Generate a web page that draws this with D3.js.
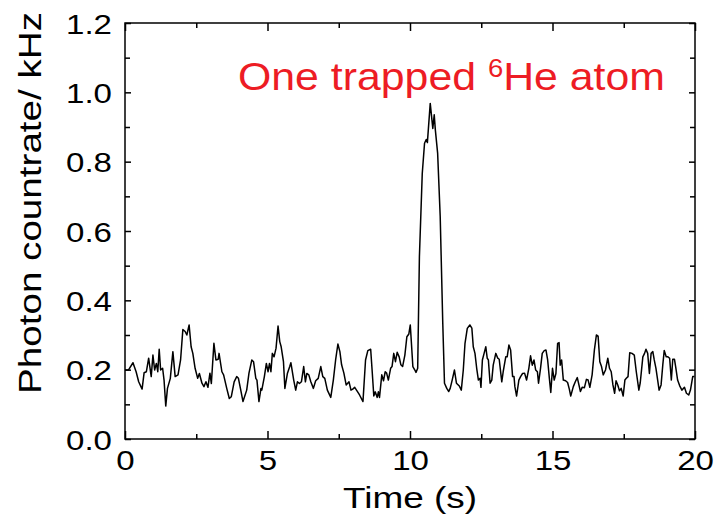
<!DOCTYPE html>
<html><head><meta charset="utf-8">
<script src="https://cdn.jsdelivr.net/npm/d3@7"></script>
<style>
html,body{margin:0;padding:0;background:#fff;}
svg text{font-family:"Liberation Sans",Arial,sans-serif;}
</style></head>
<body><svg id="chart" width="715" height="520"></svg>
<script>
const times = [0,0.13,0.28,0.39,0.48,0.60,0.67,0.75,0.83,0.92,0.98,1.04,1.10,1.15,1.20,1.25,1.32,1.37,1.43,1.49,1.59,1.68,1.76,1.86,1.95,2.03,2.11,2.17,2.25,2.32,2.38,2.46,2.55,2.61,2.70,2.77,2.84,2.91,2.98,3.03,3.12,3.19,3.27,3.30,3.40,3.46,3.57,3.66,3.73,3.83,
3.92,3.98,4.05,4.14,4.27,4.35,4.45,4.51,4.59,4.63,4.70,4.77,4.80,4.89,4.96,5.02,5.07,5.12,5.17,5.23,5.30,5.37,5.43,5.48,5.56,5.61,5.70,5.78,5.82,5.92,5.99,6.05,6.12,6.19,6.27,6.33,6.38,6.45,6.52,6.61,6.69,6.78,6.87,6.94,7.01,7.10,7.22,7.31,7.39,7.47,7.54,7.60,7.68,7.76,7.86,7.93,
7.99,8.06,8.14,8.23,8.35,8.44,8.52,8.62,8.67,8.73,8.78,8.85,8.89,8.93,9.01,9.07,9.13,9.18,9.24,9.32,9.37,9.43,9.49,9.55,9.62,9.68,9.74,9.82,9.89,9.96,10.01,10.05,10.10,10.17,10.21,10.27,
10.33,10.43,10.51,10.57,10.61,10.71,10.80,10.85,10.89,10.97,11.06,11.15,11.21,11.29,11.36,11.41,11.48,11.56,11.63,11.73,11.80,
11.87,11.93,12.01,12.10,12.17,12.22,12.28,12.34,12.40,12.46,12.49,12.54,12.60,12.66,12.71,12.75,12.81,12.87,12.92,13.01,13.08,13.13,13.22,13.27,13.36,13.41,13.47,13.53,13.60,13.65,13.68,13.74,13.82,13.88,13.95,14.02,14.09,14.17,14.23,14.29,14.35,14.41,14.47,14.51,14.58,14.64,14.71,14.77,14.83,14.89,14.94,15.00,15.06,15.12,15.18,15.23,15.27,15.32,15.38,15.46,15.53,15.59,15.64,15.73,15.80,15.87,
15.98,16.04,16.12,16.19,16.25,16.31,16.39,16.47,16.54,16.60,16.66,16.72,16.78,16.86,16.94,17.00,17.06,17.12,17.18,17.23,17.29,17.35,17.41,17.48,17.54,17.59,17.65,17.71,17.79,17.87,17.94,18.03,18.08,18.17,18.23,18.28,18.34,18.40,18.46,18.52,18.57,18.63,18.69,18.74,18.81,18.87,18.92,18.99,19.05,19.11,19.17,19.22,19.28,19.33,19.39,19.46,19.54,19.63,19.70,19.78,19.84,19.92,19.98];

const countrate = [0.199,0.200,0.220,0.194,0.165,0.144,0.191,0.194,0.233,0.180,0.242,0.199,0.218,0.194,0.259,0.199,0.204,0.170,0.095,0.146,0.175,0.252,0.180,0.185,0.228,0.316,0.310,0.300,0.329,0.266,0.247,0.204,0.175,0.189,0.161,0.151,0.165,0.149,0.190,0.160,0.276,0.228,0.230,0.247,0.194,0.185,0.146,0.117,0.122,0.165,
0.180,0.175,0.146,0.108,0.141,0.190,0.228,0.223,0.175,0.170,0.108,0.146,0.141,0.180,0.218,0.194,0.218,0.194,0.247,0.237,0.262,0.326,0.281,0.266,0.223,0.146,0.190,0.209,0.220,0.170,0.141,0.165,0.160,0.165,0.209,0.165,0.189,0.185,0.165,0.146,0.168,0.175,0.209,0.180,0.175,0.141,0.120,0.170,0.228,0.274,0.252,0.214,0.190,0.156,0.165,0.141,
0.144,0.149,0.139,0.127,0.108,0.228,0.255,0.259,0.199,0.124,0.136,0.120,0.136,0.120,0.185,0.168,0.194,0.190,0.170,0.204,0.209,0.247,0.223,0.250,0.237,0.214,0.209,0.242,0.295,0.303,0.329,0.276,0.209,0.199,0.192,0.204,
0.526,0.766,0.853,0.864,0.855,0.968,0.896,0.935,0.891,0.824,0.641,0.334,0.161,0.146,0.137,0.146,0.170,0.199,0.161,0.153,0.141,
0.199,0.276,0.319,0.329,0.320,0.266,0.247,0.204,0.170,0.175,0.149,0.228,0.247,0.266,0.233,0.228,0.161,0.170,0.213,0.247,0.233,0.230,0.165,0.194,0.237,0.237,0.271,0.257,0.180,0.180,0.151,0.124,0.170,0.180,0.189,0.190,0.170,0.204,0.240,0.213,0.228,0.199,0.194,0.161,0.204,0.247,0.255,0.257,0.228,0.175,0.134,0.204,0.170,0.189,0.276,0.278,0.213,0.228,0.170,0.168,0.163,0.144,0.124,0.151,0.165,0.177,
0.137,0.149,0.148,0.172,0.170,0.149,0.185,0.257,0.300,0.297,0.223,0.209,0.185,0.199,0.233,0.204,0.194,0.156,0.132,0.168,0.156,0.139,0.146,0.124,0.170,0.175,0.180,0.249,0.247,0.242,0.194,0.141,0.163,0.237,0.247,0.259,0.247,0.189,0.247,0.252,0.228,0.204,0.170,0.141,0.156,0.214,0.255,0.237,0.237,0.233,0.170,0.230,0.230,0.204,0.170,0.154,0.141,0.149,0.132,0.127,0.141,0.180,0.180];

const xMajorTicks = [0,5,10,15,20];
const xMinorTicks = [2.5,7.5,12.5,17.5];
const yMajorTicks = [0,0.2,0.4,0.6,0.8,1.0,1.2];
const yMinorTicks = [0.1,0.3,0.5,0.7,0.9,1.1];
const xTitle = "Time (s)";
const yTitle = "Photon countrate/ kHz";

const svg = d3.select("#chart");
const L = 125, R = 695, T = 23, B = 439;
const x = d3.scaleLinear().domain([0,20]).range([L,R]);
const y = d3.scaleLinear().domain([0,1.2]).range([B,T]);

function styleAxis(g){
  g.select(".domain").remove();
  g.selectAll(".tick line").attr("stroke","#000").attr("stroke-width",1.5);
}

// bottom
svg.append("g").attr("transform",`translate(0,${B})`)
  .call(d3.axisBottom(x).tickValues(xMajorTicks).tickSize(-8).tickPadding(12).tickFormat(d3.format("d")))
  .call(styleAxis)
  .call(g=>g.selectAll("text").attr("font-size",28).attr("fill","#000")
     .attr("y",null).attr("dy",null)
     .attr("transform","translate(0,31) scale(1.18,1)"));
svg.append("g").attr("transform",`translate(0,${B})`)
  .call(d3.axisBottom(x).tickValues(xMinorTicks).tickSize(-5).tickFormat(""))
  .call(styleAxis);
// top
svg.append("g").attr("transform",`translate(0,${T})`)
  .call(d3.axisTop(x).tickValues(xMajorTicks).tickSize(-8).tickFormat(""))
  .call(styleAxis);
svg.append("g").attr("transform",`translate(0,${T})`)
  .call(d3.axisTop(x).tickValues(xMinorTicks).tickSize(-5).tickFormat(""))
  .call(styleAxis);
// left
svg.append("g").attr("transform",`translate(${L},0)`)
  .call(d3.axisLeft(y).tickValues(yMajorTicks).tickSize(-6).tickFormat(d3.format(".1f")))
  .call(styleAxis)
  .call(g=>g.selectAll("text").attr("font-size",28).attr("fill","#000")
     .attr("x",null).attr("dy",null).attr("text-anchor","end")
     .attr("transform","translate(-13,10) scale(1.18,1)"));
svg.append("g").attr("transform",`translate(${L},0)`)
  .call(d3.axisLeft(y).tickValues(yMinorTicks).tickSize(-5).tickFormat(""))
  .call(styleAxis);
// right
svg.append("g").attr("transform",`translate(${R},0)`)
  .call(d3.axisRight(y).tickValues(yMajorTicks).tickSize(-6).tickFormat(""))
  .call(styleAxis);
svg.append("g").attr("transform",`translate(${R},0)`)
  .call(d3.axisRight(y).tickValues(yMinorTicks).tickSize(-5).tickFormat(""))
  .call(styleAxis);

// frame
svg.append("rect").attr("x",L).attr("y",T).attr("width",R-L).attr("height",B-T)
  .attr("fill","none").attr("stroke","#000").attr("stroke-width",1.5);

// data line
const pts = times.map((t,i)=>[t,countrate[i]]);
svg.append("path").datum(pts)
  .attr("fill","none").attr("stroke","#000").attr("stroke-width",1.5)
  .attr("stroke-linejoin","round")
  .attr("d",d3.line().x(d=>x(d[0])).y(d=>y(d[1])));

// axis titles
svg.append("text").attr("x",(L+R)/2).attr("y",508).attr("text-anchor","middle")
  .attr("font-size",29).attr("textLength",134).attr("lengthAdjust","spacingAndGlyphs")
  .text(xTitle);
svg.append("text").attr("transform","translate(41,203) rotate(-90)").attr("text-anchor","middle")
  .attr("font-size",31).attr("textLength",382).attr("lengthAdjust","spacingAndGlyphs")
  .text(yTitle);

// annotation
const ann = svg.append("text").attr("x",238).attr("y",90).attr("fill","#ed1c24")
  .attr("font-size",39).attr("textLength",427).attr("lengthAdjust","spacingAndGlyphs");
ann.append("tspan").text("One trapped ");
ann.append("tspan").attr("font-size",25).attr("dy",-13).text("6");
ann.append("tspan").attr("dy",13).text("He atom");
</script></body></html>
